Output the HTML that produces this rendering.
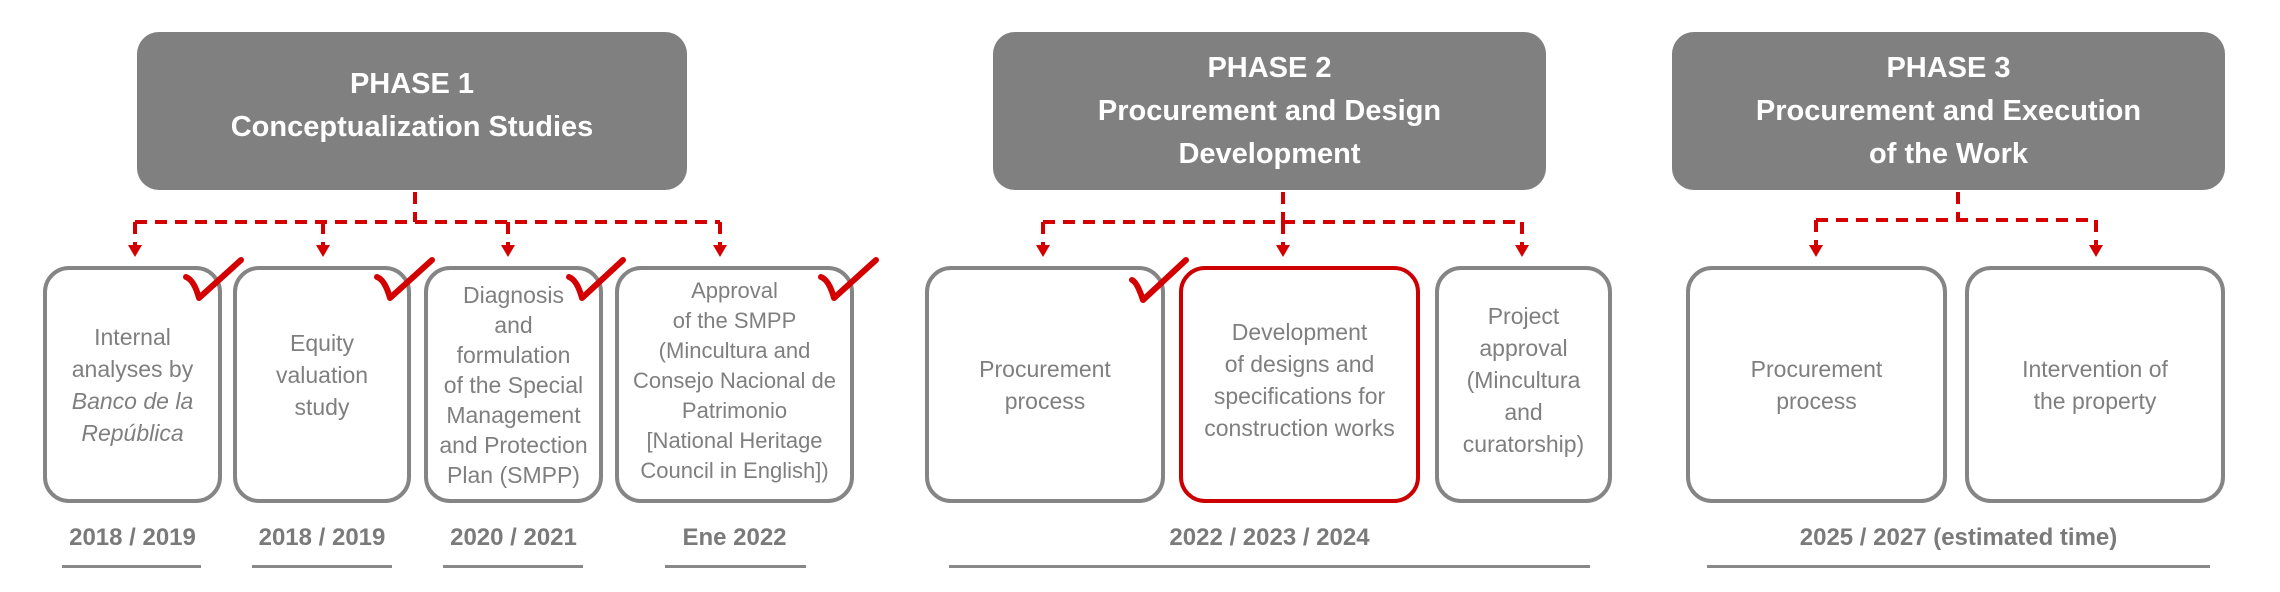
<!DOCTYPE html>
<html><head><meta charset="utf-8"><style>
body{margin:0;width:2280px;height:592px;background:#fff;position:relative;overflow:hidden;font-family:"Liberation Sans",sans-serif}
.h{position:absolute;top:32px;height:158px;background:#808080;border-radius:22px;color:#fff;font-weight:bold;font-size:29px;line-height:43px;display:flex;align-items:center;justify-content:center;text-align:center}
.b{position:absolute;top:266px;height:237px;box-sizing:border-box;border:4px solid #858585;border-radius:26px;color:#7f7f7f;font-size:23px;line-height:32px;display:flex;align-items:center;justify-content:center;text-align:center}
.d{position:absolute;top:524px;color:#7a7a7a;font-weight:bold;font-size:24px;text-align:center}
.u{position:absolute;top:565px;height:3px;background:#888}
</style></head><body>
<div class="h" style="left:137px;width:550px;padding-bottom:10px;box-sizing:border-box">PHASE 1<br>Conceptualization Studies</div>
<div class="h" style="left:993px;width:553px">PHASE 2<br>Procurement and Design<br>Development</div>
<div class="h" style="left:1672px;width:553px">PHASE 3<br>Procurement and Execution<br>of the Work</div>

<div class="b" style="left:43px;width:179px"><div>Internal<br>analyses by<br><i>Banco de la<br>República</i></div></div>
<div class="b" style="left:233px;width:178px"><div style="margin-top:-20px">Equity<br>valuation<br>study</div></div>
<div class="b" style="left:424px;width:179px;line-height:30px"><div>Diagnosis<br>and<br>formulation<br>of the Special<br>Management<br>and Protection<br>Plan (SMPP)</div></div>
<div class="b" style="left:615px;width:239px;line-height:30px;font-size:22px"><div style="margin-top:-8px">Approval<br>of the SMPP<br>(Mincultura and<br>Consejo Nacional de<br>Patrimonio<br>[National Heritage<br>Council in English])</div></div>

<div class="b" style="left:925px;width:240px"><div>Procurement<br>process</div></div>
<div class="b" style="left:1179px;width:241px;border-color:#cc0000"><div style="margin-top:-10px">Development<br>of designs and<br>specifications for<br>construction works</div></div>
<div class="b" style="left:1435px;width:177px"><div style="margin-top:-10px">Project<br>approval<br>(Mincultura<br>and<br>curatorship)</div></div>

<div class="b" style="left:1686px;width:261px"><div>Procurement<br>process</div></div>
<div class="b" style="left:1965px;width:260px"><div>Intervention of<br>the property</div></div>

<div class="d" style="left:43px;width:179px">2018 / 2019</div>
<div class="d" style="left:233px;width:178px">2018 / 2019</div>
<div class="d" style="left:424px;width:179px">2020 / 2021</div>
<div class="d" style="left:615px;width:239px">Ene 2022</div>
<div class="d" style="left:949px;width:641px">2022 / 2023 / 2024</div>
<div class="d" style="left:1707px;width:503px">2025 / 2027 (estimated time)</div>
<div class="u" style="left:62px;width:139px"></div>
<div class="u" style="left:252px;width:140px"></div>
<div class="u" style="left:443px;width:140px"></div>
<div class="u" style="left:665px;width:141px"></div>
<div class="u" style="left:949px;width:641px"></div>
<div class="u" style="left:1707px;width:503px"></div>

<svg width="2280" height="592" style="position:absolute;left:0;top:0">
<g stroke="#d40000" stroke-width="4" fill="none" stroke-dasharray="12 8">
<path d="M415 192V222M135 222H720M135 222V248M323 222V248M508 222V248M720 222V248"/>
<path d="M1283 192V222M1043 222H1522M1043 222V248M1283 222V248M1522 222V248"/>
<path d="M1958 192V220M1816 220H2096M1816 220V248M2096 220V248"/>
</g>
<g fill="#d40000">
<path d="M128 245h14l-7 12z"/><path d="M316 245h14l-7 12z"/><path d="M501 245h14l-7 12z"/><path d="M713 245h14l-7 12z"/>
<path d="M1036 245h14l-7 12z"/><path d="M1276 245h14l-7 12z"/><path d="M1515 245h14l-7 12z"/>
<path d="M1809 245h14l-7 12z"/><path d="M2089 245h14l-7 12z"/>
</g>
<g stroke="#d40000" stroke-width="6" fill="none" stroke-linecap="round" stroke-linejoin="round">
<path d="M186 277Q194 280 199 298L241 260"/>
<path d="M377 277Q385 280 390 298L432 260"/>
<path d="M569 277Q577 280 582 298L623 260"/>
<path d="M821 277Q829 280 834 298L876 260"/>
<path d="M1132 280Q1137 282 1143 300L1186 260"/>
</g>
</svg>
</body></html>
